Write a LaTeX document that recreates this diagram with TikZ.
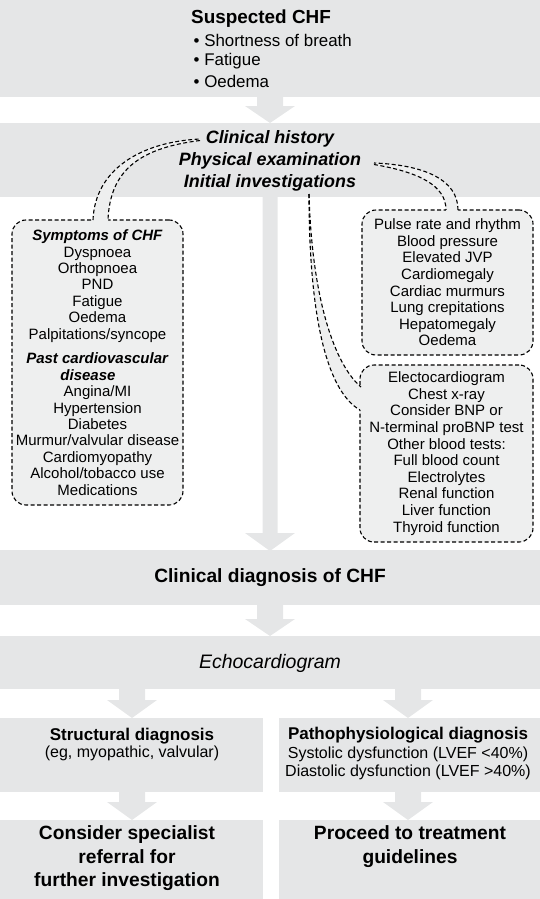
\documentclass[tikz,border=0pt]{standalone}
\usepackage{fontspec}
\setmainfont{Liberation Sans}
\definecolor{boxgray}{RGB}{229,230,231}
\definecolor{callfill}{RGB}{238,239,239}
\tikzset{
  flowbox/.style={fill=boxgray, draw=none, inner sep=0pt, outer sep=0pt, anchor=north west},
  callbox/.style={draw=black, fill=callfill, line width=1.1pt, dash pattern=on 4pt off 2.5pt,
    rounded corners=14pt, inner sep=0pt, align=center, font=\fontsize{15}{16.4}\selectfont},
  tailline/.style={draw=black, line width=1.1pt, dash pattern=on 4pt off 2.5pt},
  txt/.style={inner sep=0pt, align=center},
}
\newcommand\blockarrow[5]{% x, top y, tip y, shaft half width, head length
  \fill[boxgray] ({#1-#4},#2) -- ({#1+#4},#2) -- ({#1+#4},{#3-#5}) -- ({#1+25},{#3-#5})
    -- (#1,#3) -- ({#1-25},{#3-#5}) -- ({#1-#4},{#3-#5}) -- cycle;}
\begin{document}
\begin{tikzpicture}[x=1pt,y=-1pt]
\useasboundingbox (0,0) rectangle (540,899);
% main boxes
\node[flowbox, minimum width=540pt, minimum height=97pt] (b1) at (0,0) {};
\node[flowbox, minimum width=540pt, minimum height=74pt] (b2) at (0,123) {};
\node[flowbox, minimum width=540pt, minimum height=55pt] (b3) at (0,550) {};
\node[flowbox, minimum width=540pt, minimum height=53pt] (b4) at (0,636) {};
\node[flowbox, minimum width=263pt, minimum height=74pt] (b5l) at (0,718) {};
\node[flowbox, minimum width=261pt, minimum height=74pt] (b5r) at (279,718) {};
\node[flowbox, minimum width=263pt, minimum height=79pt] (b6l) at (0,820) {};
\node[flowbox, minimum width=261pt, minimum height=79pt] (b6r) at (279,820) {};
% block arrows
\blockarrow{270}{96}{123}{13}{17}
\blockarrow{270}{196}{551}{7.5}{18}
\blockarrow{270}{604}{636}{13}{17}
\blockarrow{132}{688}{718}{13}{18}
\blockarrow{408}{688}{718}{13}{18}
\blockarrow{132}{791}{820}{13}{18}
\blockarrow{408}{791}{820}{13}{18}
% box 1 text
\node[txt, anchor=west, font=\fontsize{18.9}{22}\selectfont\bfseries] (t1) at (191,19) {Suspected CHF};
\node[txt, anchor=west, font=\fontsize{16.9}{20}\selectfont] (s1) at (193.5,40) {\textbullet\ Shortness of breath};
\node[txt, anchor=west, font=\fontsize{16.9}{20}\selectfont] (s2) at (193.5,61) {\textbullet\ Fatigue};
\node[txt, anchor=west, font=\fontsize{16.9}{20}\selectfont] (s3) at (193.5,81) {\textbullet\ Oedema};
% box 2 text
\node[txt, font=\fontsize{17.9}{20}\selectfont\bfseries\itshape] (ch) at (270,139) {Clinical history};
\node[txt, font=\fontsize{17.9}{20}\selectfont\bfseries\itshape] (pe) at (270,161) {Physical examination};
\node[txt, font=\fontsize{17.9}{20}\selectfont\bfseries\itshape] (ii) at (270,183) {Initial investigations};
% callouts
\node[callbox, minimum width=171pt, minimum height=285pt] (symp) at (97.5,362.5) {%
  \textbf{\textit{Symptoms of CHF}}\\ Dyspnoea\\ Orthopnoea\\ PND\\ Fatigue\\ Oedema\\ Palpitations/syncope\\[8.5pt]
  \textbf{\textit{Past cardiovascular}}\\ \hspace*{-19pt}\textbf{\textit{disease}}\\ Angina/MI\\ Hypertension\\ Diabetes\\
  Murmur/valvular disease\\ Cardiomyopathy\\ Alcohol/tobacco use\\ Medications};
\node[callbox, minimum width=171pt, minimum height=145pt, font=\fontsize{15}{16.6}\selectfont] (phys) at (447.5,282.5) {%
  Pulse rate and rhythm\\ Blood pressure\\ Elevated JVP\\ Cardiomegaly\\ Cardiac murmurs\\ Lung crepitations\\ Hepatomegaly\\ Oedema};
\node[callbox, minimum width=173pt, minimum height=177pt, font=\fontsize{15}{16.6}\selectfont] (inv) at (446.5,453.5) {%
  Electocardiogram\\ Chest x-ray\\ Consider BNP or\\ N-terminal proBNP test\\ Other blood tests:\\ Full blood count\\
  Electrolytes\\ Renal function\\ Liver function\\ Thyroid function};
% callout tails
\coordinate (tipA) at (200,139);
\coordinate (tipB) at (374,163);
\coordinate (tipC) at (309,194);
\fill[callfill] (93,223) -- (93,220) .. controls (95,170) and (140,142) .. (tipA)
  -- (200,140.5) .. controls (140,148) and (110,170) .. (108,220) -- (108,223) -- cycle;
\draw[tailline] (93,220) .. controls (95,170) and (140,142) .. (tipA);
\draw[tailline] (200,140.5) .. controls (140,148) and (110,170) .. (108,220);
\fill[callfill] (458,213) -- (458,210) .. controls (458,180) and (425,165) .. (tipB)
  -- (374,164.5) .. controls (418,172) and (446,185) .. (446,210) -- (446,213) -- cycle;
\draw[tailline] (458,210) .. controls (458,180) and (425,165) .. (tipB);
\draw[tailline] (374,164.5) .. controls (418,172) and (446,185) .. (446,210);
\fill[callfill] (tipC) .. controls (312,300) and (335,365) .. (361,387) -- (363,387) -- (363,410)
  -- (360,410) .. controls (325,390) and (309,310) .. (tipC) -- cycle;
\draw[tailline] (tipC) .. controls (312,300) and (335,365) .. (361,387);
\draw[tailline] (tipC) .. controls (309,310) and (325,390) .. (360,410);
% lower texts
\node[txt, font=\fontsize{19.2}{22}\selectfont\bfseries] (cd) at (270,578) {Clinical diagnosis of CHF};
\node[txt, font=\fontsize{19.5}{22}\selectfont\itshape] (echo) at (270,663) {Echocardiogram};
\node[txt, font=\fontsize{16}{17}\selectfont] (sd) at (132,744.5) {\textbf{\fontsize{17}{17}\selectfont Structural diagnosis}\\ (eg, myopathic, valvular)};
\node[txt, font=\fontsize{16}{18.5}\selectfont] (pd) at (408,753.5) {\textbf{\fontsize{17}{18.5}\selectfont Pathophysiological diagnosis}\\ Systolic dysfunction (LVEF <40\%)\\ Diastolic dysfunction (LVEF >40\%)};
\node[txt, font=\fontsize{19.2}{23.5}\selectfont\bfseries] (csr) at (127,858.5) {Consider specialist\\ referral for\\ further investigation};
\node[txt, font=\fontsize{19.2}{23.5}\selectfont\bfseries] (ptg) at (410,846.5) {Proceed to treatment\\ guidelines};
\end{tikzpicture}
\end{document}
